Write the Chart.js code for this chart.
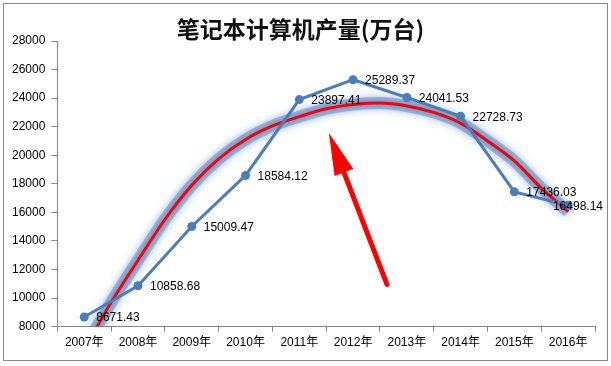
<!DOCTYPE html>
<html>
<head>
<meta charset="utf-8">
<script src="https://cdn.jsdelivr.net/npm/chart.js@4/dist/chart.umd.min.js"></script>
<style>
  html, body { margin: 0; padding: 0; background: #fff; }
  #wrap { position: relative; width: 611px; height: 366px; }
  #frame { position: absolute; left: 3px; top: 3px; width: 603px; height: 356px; border: 1px solid #8a8a8a; pointer-events: none; }
  canvas { position: absolute; left: 0; top: 0; }
</style>
</head>
<body>
<div id="wrap">
  <canvas id="c" width="611" height="366"></canvas>
  <div id="frame"></div>
</div>
<script>
// ---- data ----
const titleText = '笔记本计算机产量(万台)';
const years = ['2007年','2008年','2009年','2010年','2011年','2012年','2013年','2014年','2015年','2016年'];
const production = [8671.43, 10858.68, 15009.47, 18584.12, 23897.41, 25289.37, 24041.53, 22728.73, 17436.03, 16498.14];
// trend curve (position in category units, value)
const trendPos = [0, 0.5, 1, 1.5, 2, 2.5, 3, 3.5, 4, 4.5, 5, 5.5, 6, 6.5, 7, 7.5, 8, 8.5, 9];
const trendVal = [6400, 9700, 12650, 15500, 17900, 19750, 21100, 22050, 22700, 23250, 23550, 23650, 23450, 23000, 22250, 21000, 19600, 17700, 16050];
// arrow annotation (category units, value)
const arrowFrom = [5.63, 10950];
const arrowTo = [4.55, 21550];
const yTicks = [8000, 10000, 12000, 14000, 16000, 18000, 20000, 22000, 24000, 26000, 28000];

const trendPoints = trendPos.map((p, i) => ({ x: p, y: trendVal[i] }));

const BLUE = '#4A7EBB';
const RED = '#FF0000';
const AXIS = '#868686';
const FONT = "'Liberation Sans', 'Noto Sans CJK SC', sans-serif";

const glowPlugin = {
  id: 'glow',
  beforeDatasetDraw(chart, args) {
    if (args.index === 0 || args.index === 1) {
      chart.ctx.save();
      chart.ctx.shadowColor = 'rgba(79,129,189,0.9)';
      chart.ctx.shadowBlur = args.index === 0 ? 8 : 6;
    }
  },
  afterDatasetDraw(chart, args) {
    if (args.index === 0 || args.index === 1) chart.ctx.restore();
  }
};

const labelPlugin = {
  id: 'valueLabels',
  afterDatasetsDraw(chart) {
    const ctx = chart.ctx;
    const meta = chart.getDatasetMeta(2);
    ctx.save();
    ctx.font = '12px ' + FONT;
    ctx.fillStyle = '#000';
    ctx.textBaseline = 'middle';
    ctx.textAlign = 'left';
    const limit = chart.width - 8;
    meta.data.forEach((pt, i) => {
      const txt = production[i].toFixed(2);
      const w = ctx.measureText(txt).width;
      let x = pt.x + 12;
      if (x + w > limit) x = limit - w;
      ctx.fillText(txt, x, pt.y + 1);
    });
    ctx.restore();
  }
};

const arrowPlugin = {
  id: 'arrow',
  afterDatasetsDraw(chart) {
    const xs = chart.scales.x2, ys = chart.scales.y;
    const x1 = xs.getPixelForValue(arrowFrom[0]), y1 = ys.getPixelForValue(arrowFrom[1]);
    const x2 = xs.getPixelForValue(arrowTo[0]), y2 = ys.getPixelForValue(arrowTo[1]);
    const ang = Math.atan2(y2 - y1, x2 - x1);
    const headLen = 42, headHalf = 10;
    const bx = x2 - headLen * Math.cos(ang), by = y2 - headLen * Math.sin(ang);
    const ctx = chart.ctx;
    ctx.save();
    ctx.strokeStyle = RED;
    ctx.fillStyle = RED;
    ctx.lineWidth = 5;
    ctx.lineCap = 'round';
    ctx.beginPath();
    ctx.moveTo(x1, y1);
    ctx.lineTo(bx + 4 * Math.cos(ang), by + 4 * Math.sin(ang));
    ctx.stroke();
    ctx.beginPath();
    ctx.moveTo(x2, y2);
    ctx.lineTo(bx + headHalf * Math.sin(ang), by - headHalf * Math.cos(ang));
    ctx.lineTo(bx - headHalf * Math.sin(ang), by + headHalf * Math.cos(ang));
    ctx.closePath();
    ctx.fill();
    ctx.restore();
  }
};

new Chart(document.getElementById('c'), {
  type: 'line',
  data: {
    labels: years,
    datasets: [
      {
        label: 'glow',
        data: trendPoints,
        xAxisID: 'x2',
        borderColor: 'rgba(95,140,200,0.5)',
        borderWidth: 12,
        pointRadius: 0,
        cubicInterpolationMode: 'monotone',
        clip: 0,
        order: 3
      },
      {
        label: 'trend',
        data: trendPoints,
        xAxisID: 'x2',
        borderColor: RED,
        borderWidth: 3,
        pointRadius: 0,
        cubicInterpolationMode: 'monotone',
        clip: 0,
        order: 2
      },
      {
        label: '产量',
        data: production,
        xAxisID: 'x',
        borderColor: BLUE,
        backgroundColor: BLUE,
        borderWidth: 3,
        pointRadius: 4.5,
        pointBorderWidth: 0,
        pointBackgroundColor: BLUE,
        tension: 0,
        clip: false,
        order: 1
      }
    ]
  },
  options: {
    responsive: false,
    animation: false,
    events: [],
    layout: { padding: { left: 6, right: 16, top: 0, bottom: 12 } },
    plugins: {
      legend: { display: false },
      tooltip: { enabled: false },
      title: {
        display: true,
        text: titleText,
        color: '#111',
        font: { family: "'Noto Sans CJK SC', sans-serif", size: 23, weight: 'bold', lineHeight: 1 },
        padding: { top: 18, bottom: 0 }
      }
    },
    scales: {
      x: {
        type: 'category',
        offset: true,
        grid: { display: true, drawOnChartArea: false, offset: true, tickLength: 5, color: AXIS },
        border: { display: true, color: AXIS, width: 1 },
        ticks: { color: '#000', font: { family: FONT, size: 12 }, padding: 4, maxRotation: 0, autoSkip: false }
      },
      x2: {
        type: 'linear',
        display: false,
        min: -0.5,
        max: 9.5
      },
      y: {
        min: yTicks[0],
        max: yTicks[yTicks.length - 1],
        afterBuildTicks(scale) { scale.ticks = yTicks.map(v => ({ value: v })); },
        grid: { display: true, drawOnChartArea: false, tickLength: 6, color: AXIS },
        border: { display: true, color: AXIS, width: 1 },
        ticks: { color: '#000', font: { family: FONT, size: 12 }, padding: 6, callback: v => String(v) }
      }
    }
  },
  plugins: [glowPlugin, labelPlugin, arrowPlugin]
});
</script>
</body>
</html>
